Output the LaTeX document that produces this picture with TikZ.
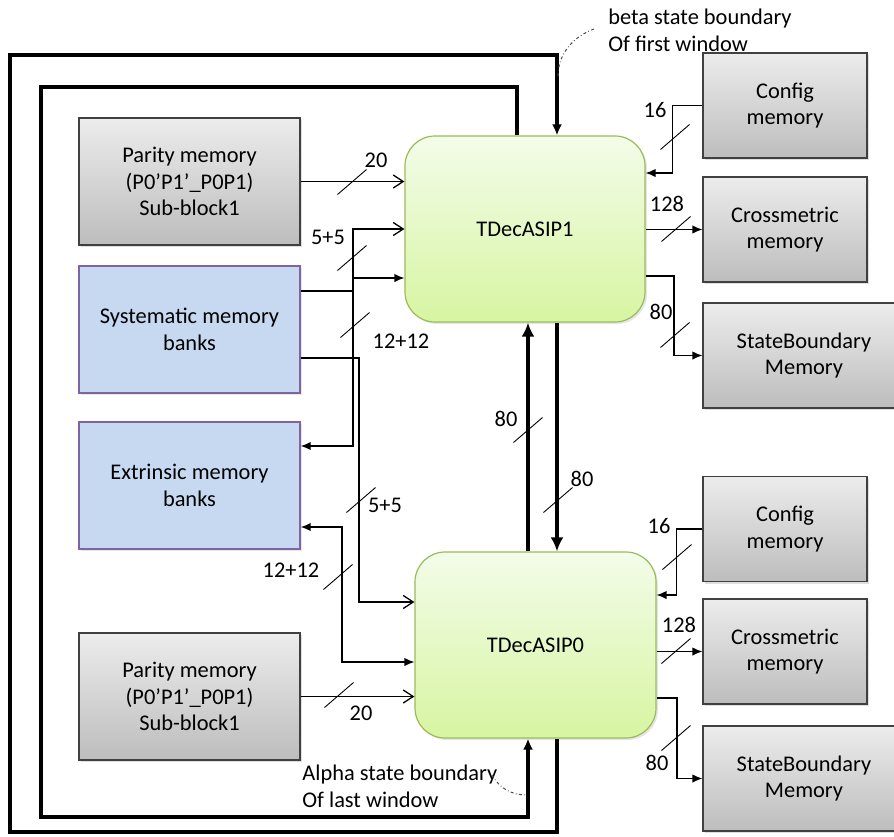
\documentclass[tikz,border=0pt]{standalone}
\usepackage{fontspec}
\setmainfont{Carlito}
\usetikzlibrary{arrows.meta,shadows}

\definecolor{memtop}{HTML}{ECECEC}
\definecolor{membot}{HTML}{BDBDBD}
\definecolor{bankfill}{HTML}{C6D9F1}
\definecolor{bankline}{HTML}{8064A2}
\definecolor{asiptop}{HTML}{F3FCE9}
\definecolor{asipbot}{HTML}{D7F5A2}
\definecolor{asipline}{HTML}{9BBB59}

\tikzset{
  graymem/.style={draw=black!75, line width=0.6pt, top color=memtop, bottom color=membot,
    minimum width=110.5pt, minimum height=63.5pt, align=center,
    drop shadow={shadow xshift=1pt, shadow yshift=-1pt, opacity=0.25}},
  smallmem/.style={graymem, minimum width=82pt, minimum height=52.5pt},
  bankmem/.style={draw=bankline, line width=0.7pt, fill=bankfill,
    minimum width=110.5pt, minimum height=63.5pt, align=center,
    drop shadow={shadow xshift=1pt, shadow yshift=-1pt, opacity=0.2}},
  asipbox/.style={draw=asipline, line width=0.6pt, top color=asiptop, bottom color=asipbot,
    rounded corners=15pt, minimum width=120pt, minimum height=93pt,
    drop shadow={shadow xshift=1pt, shadow yshift=-1pt, opacity=0.2}},
  bus/.style={line width=0.65pt, >={Latex[length=5pt,width=4.2pt]}},
  barbtip/.style={-{Straight Barb[length=5pt,width=6.5pt]}},
  fat/.style={line width=2.2pt, >={Latex[length=7pt,width=6.5pt]}},
  loopline/.style={line width=1.7pt, >={Latex[length=5.5pt,width=5pt]}},
  tick/.style={line width=0.45pt},
  lbl/.style={inner sep=0pt},
  note/.style={draw=black!70, line width=0.5pt, dash pattern=on 1.5pt off 1.2pt on 0.4pt off 1.2pt}
}

\begin{document}
\begin{tikzpicture}[x=0.5pt,y=-0.5pt,font=\fontsize{11.2}{13.3}\selectfont]
\useasboundingbox (0,0) rectangle (894,836);
\clip (0,0) rectangle (894,836);

% memories on the left
\node[graymem] (par1) at (189.5,181.5) {Parity memory\\(P0’P1’\_P0P1)\\Sub-block1};
\node[bankmem] (sys) at (189.5,329.5) {Systematic memory\\banks};
\node[bankmem] (ext) at (189.5,485.5) {Extrinsic memory\\banks};
\node[graymem] (par0) at (189.5,696.5) {Parity memory\\(P0’P1’\_P0P1)\\Sub-block1};

% decoders
\node[asipbox] (asip1) at (525,229) {TDecASIP1};
\node[asipbox, minimum width=120.5pt] (asip0) at (535.5,645) {TDecASIP0};

% memories on the right
\node[smallmem] (cfg1) at (785,105.5) {Config\\memory};
\node[smallmem] (cm1) at (785,229.5) {Crossmetric\\memory};
\node[smallmem, minimum width=101pt] (sb1) at (804,355.5) {StateBoundary\\Memory};
\node[smallmem] (cfg0) at (785,529) {Config\\memory};
\node[smallmem] (cm0) at (785,651.5) {Crossmetric\\memory};
\node[smallmem, minimum width=101pt] (sb0) at (804,778.5) {StateBoundary\\Memory};

% state boundary loops
\draw[loopline,->] (asip0.south -| 557,0) -- (557,832) -| (10,55) -| (asip1.north -| 557,0);
\draw[loopline,->] (asip1.north -| 517,0) |- (41,87) |- (528,817) -- (asip0.south -| 528,0);

% between the decoders
\draw[fat,->] (asip0.north -| 528,0) -- (asip1.south -| 528,0);
\draw[fat,->] (asip1.south -| 557,0) -- (asip0.north -| 557,0);

% left side buses
\draw[bus,barbtip] (par1.east) -- (par1.east -| asip1.west);
\draw[bus] (sys.east |- 0,291) -- (353,291);
\draw[bus,{Straight Barb[length=5pt,width=6.5pt]}-{Latex[length=5pt,width=4.2pt]}] (asip1.west) -| (353,446) -- (ext.east |- 0,446);
\draw[bus,->] (353,278) -- (asip1.west |- 0,278);
\draw[bus,barbtip] (sys.east |- 0,358) -| (359,602) -- (asip0.west |- 0,602);
\draw[bus,<->] (ext.east |- 0,527) -| (342,662) -- (asip0.west |- 0,662);
\draw[bus,barbtip] (par0.east) -- (par0.east -| asip0.west);

% right side buses
\draw[bus,->] (cfg1.west) -- ++(-30,0) |- (asip1.east |- 0,173);
\draw[bus,->] (asip1.east |- cm1.west) -- (cm1.west);
\draw[bus,->] (asip1.east |- 0,276) -| (sb1.west -| 674,0) -- (sb1.west);
\draw[bus,->] (cfg0.west) -- ++(-26,0) |- (asip0.east |- 0,595);
\draw[bus,->] (asip0.east |- cm0.west) -- (cm0.west);
\draw[bus,->] (asip0.east |- 0,698) -| (sb0.west -| 677,0) -- (sb0.west);

% bus width slashes
\draw[tick] (352,182) ++(-14.5,12.5) -- ++(29,-25);
\draw[tick] (352,258) ++(-14.5,12.5) -- ++(29,-25);
\draw[tick] (355,325) ++(-14.5,12.5) -- ++(29,-25);
\draw[tick] (361,500) ++(-14.5,12.5) -- ++(29,-25);
\draw[tick] (338,577) ++(-14.5,12.5) -- ++(29,-25);
\draw[tick] (339,695) ++(-14.5,12.5) -- ++(29,-25);
\draw[tick] (528,430) ++(-14.5,12.5) -- ++(29,-25);
\draw[tick] (558,500) ++(-14.5,12.5) -- ++(29,-25);
\draw[tick] (675,137) ++(-14.5,12.5) -- ++(29,-25);
\draw[tick] (676,229) ++(-14.5,12.5) -- ++(29,-25);
\draw[tick] (675,335) ++(-14.5,12.5) -- ++(29,-25);
\draw[tick] (677,557) ++(-14.5,12.5) -- ++(29,-25);
\draw[tick] (676,651) ++(-14.5,12.5) -- ++(29,-25);
\draw[tick] (676,738) ++(-14.5,12.5) -- ++(29,-25);

% bus widths
\node[lbl] (w20a) at (376,160) {20};
\node[lbl] (w55a) at (328,237) {5+5};
\node[lbl] (w1212a) at (401,341) {12+12};
\node[lbl] (w55b) at (385,505) {5+5};
\node[lbl] (w1212b) at (291,570) {12+12};
\node[lbl] (w20b) at (361,713) {20};
\node[lbl] (w80a) at (506,419) {80};
\node[lbl] (w80b) at (582,479) {80};
\node[lbl] (w16a) at (655,110) {16};
\node[lbl] (w128a) at (667,204) {128};
\node[lbl] (w80c) at (661,312) {80};
\node[lbl] (w16b) at (659,526) {16};
\node[lbl] (w128b) at (679,625) {128};
\node[lbl] (w80d) at (657,763) {80};

% notes
\node[lbl, anchor=west, align=left] (betanote) at (608,30.5) {beta state boundary\\Of first window};
\draw[note] (594,29) .. controls (572,37) and (558,55) .. (558,76);
\node[lbl, anchor=west, align=left] (alphanote) at (302,786) {Alpha state boundary\\Of last window};
\draw[note] (492,775) .. controls (500,789) and (512,795) .. (527,795);
\end{tikzpicture}
\end{document}
